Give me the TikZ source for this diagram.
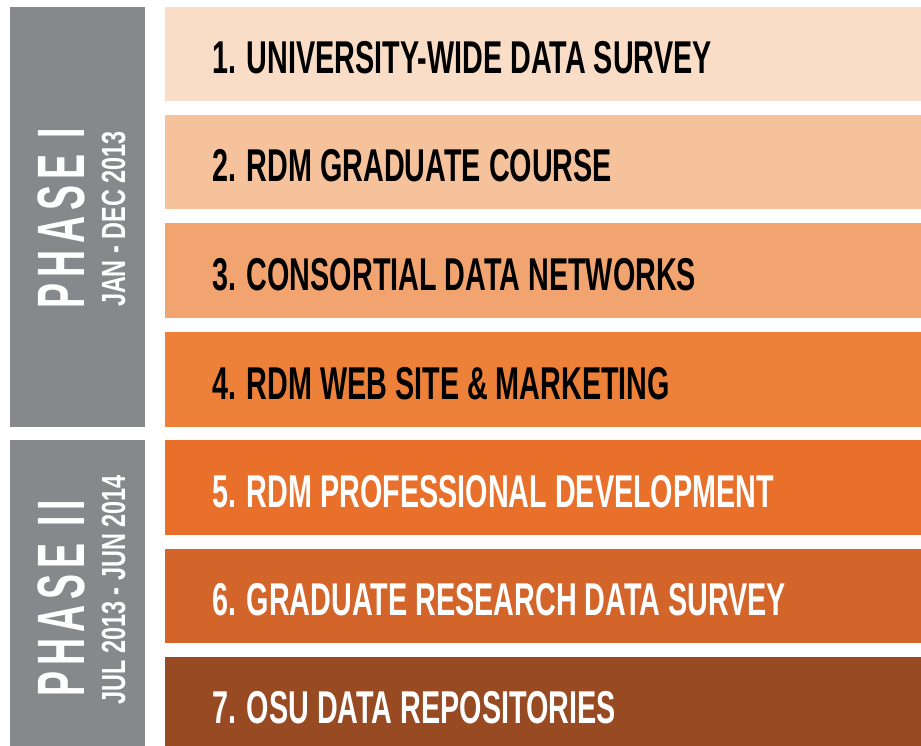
\documentclass[tikz,border=0pt]{standalone}
\usepackage{fontspec}
\newfontfamily\itemfont{Liberation Sans}[FakeStretch=0.625]
\newfontfamily\phasefont{Liberation Sans}[FakeStretch=0.56,LetterSpace=9]
\newfontfamily\datefont{Liberation Sans}[FakeStretch=0.7]
\definecolor{phasegray}{HTML}{87888B}
\definecolor{cA}{HTML}{F9DDC6}
\definecolor{cB}{HTML}{F5C29B}
\definecolor{cC}{HTML}{F2A470}
\definecolor{cD}{HTML}{ED8139}
\definecolor{cE}{HTML}{E8702B}
\definecolor{cF}{HTML}{D3652A}
\definecolor{cG}{HTML}{984A22}
\tikzset{
  itemtext/.style={anchor=base west, inner sep=0pt, font=\itemfont\bfseries\fontsize{46}{46}\selectfont},
  phasetext/.style={anchor=base, rotate=90, inner sep=0pt, text=white, font=\phasefont\bfseries\fontsize{67}{67}\selectfont},
  datetext/.style={anchor=base, rotate=90, inner sep=0pt, text=white, font=\datefont\bfseries\fontsize{33.5}{33.5}\selectfont}
}
\begin{document}
\begin{tikzpicture}[x=1pt,y=-1pt]
\useasboundingbox (0,0) rectangle (921,746);
\fill[white] (0,0) rectangle (921,746);
% phase bars
\fill[phasegray] (10,7) rectangle (145,427);
\fill[phasegray] (10,440) rectangle (145,746);
% item bars
\fill[cA] (165,7) rectangle (921,101);
\fill[cB] (165,115) rectangle (921,209);
\fill[cC] (165,223) rectangle (921,318);
\fill[cD] (165,332) rectangle (921,427);
\fill[cE] (165,440) rectangle (921,535);
\fill[cF] (165,549) rectangle (921,643);
\fill[cG] (165,657) rectangle (921,746);
% item texts
\node[itemtext, text=black] (t1) at (212,73.5) {1. UNIVERSITY-WIDE DATA SURVEY};
\node[itemtext, text=black] (t2) at (212,181.5) {2. RDM GRADUATE COURSE};
\node[itemtext, text=black] (t3) at (212,290) {3. CONSORTIAL DATA NETWORKS};
\node[itemtext, text=black] (t4) at (212,399) {4. RDM WEB SITE \& MARKETING};
\node[itemtext, text=white] (t5) at (212,507) {5. RDM PROFESSIONAL DEVELOPMENT};
\node[itemtext, text=white] (t6) at (212,615.5) {6. GRADUATE RESEARCH DATA SURVEY};
\node[itemtext, text=white] (t7) at (212,723) {7. OSU DATA REPOSITORIES};
% phase texts
\node[phasetext] (p1) at (84,218) {PHASE I};
\node[datetext] (d1) at (125,219) {JAN - DEC 2013};
\node[phasetext] (p2) at (84,598) {PHASE II};
\node[datetext] (d2) at (125,590) {JUL 2013 - JUN 2014};
\end{tikzpicture}
\end{document}
